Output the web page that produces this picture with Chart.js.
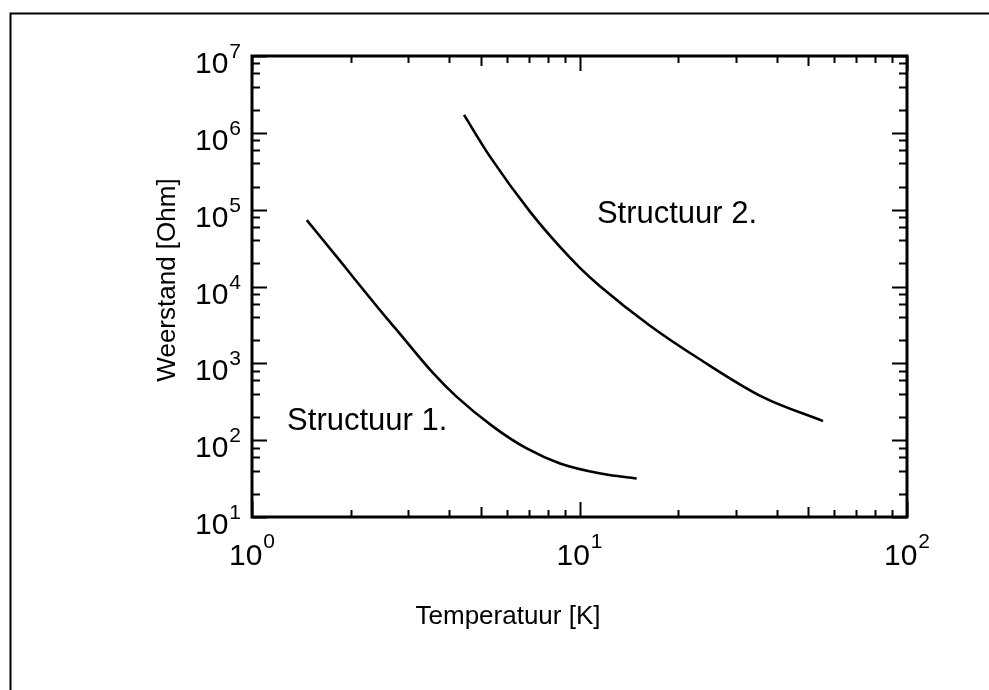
<!DOCTYPE html>
<html><head><meta charset="utf-8">
<script src="https://cdn.jsdelivr.net/npm/chart.js@4.4.1/dist/chart.umd.min.js"></script>
<style>html,body{margin:0;padding:0;background:#fff;}#wrap{width:989px;height:690px;position:relative;}</style>
</head><body><div id="wrap"><canvas id="c" width="989" height="690"></canvas></div>
<script>
// ---- data ----
const s1Temp = [1.47, 1.86, 2.04, 2.58, 2.83, 3.58, 4.22, 5.46, 6.9, 8.72, 11.6, 14.95];
const s1Res  = [73000, 21400, 13100, 3850, 2420, 740, 366, 149, 78, 49.8, 36.8, 31.7];
const s2Temp = [4.44, 5.33, 7.06, 8.72, 10.03, 11.55, 16.42, 23.3, 36.3, 55.4];
const s2Res  = [1.71e6, 4.9e5, 9.42e4, 3.27e4, 1.75e4, 1.01e4, 3090, 1130, 363, 177];
const seriesNames = ['Structuur 1.', 'Structuur 2.'];
const xDecades = [1, 10, 100];
const yDecades = [10, 100, 1e3, 1e4, 1e5, 1e6, 1e7];
const xExponents = ['0', '1', '2'];
const yExponents = ['1', '2', '3', '4', '5', '6', '7'];
const xMinorMult = [2, 3, 4, 5, 6, 7, 8, 9];
const yMinorMult = [2, 4, 6, 8];
const xTitle = 'Temperatuur [K]';
const yTitle = 'Weerstand [Ohm]';

const FONT = '"Liberation Sans", Arial, Helvetica, sans-serif';
const toPts = (xs, ys) => xs.map((x, i) => ({x: x, y: ys[i]}));

const axesPlugin = {
  id: 'axesPlugin',
  afterDraw(chart) {
    const ctx = chart.ctx;
    const xs = chart.scales.x, ys = chart.scales.y;
    const a = chart.chartArea;
    ctx.save();
    ctx.strokeStyle = '#000';
    ctx.fillStyle = '#000';
    // outer frame (left and top edges)
    ctx.lineWidth = 2;
    ctx.beginPath();
    ctx.moveTo(10.5, 690); ctx.lineTo(10.5, 13.5); ctx.lineTo(989, 13.5);
    ctx.stroke();
    // plot box
    ctx.lineWidth = 3;
    ctx.strokeRect(a.left, a.top, a.right - a.left, a.bottom - a.top);
    // ticks
    ctx.lineWidth = 2;
    ctx.beginPath();
    xDecades.forEach(d => {
      [1].concat(xMinorMult).forEach(m => {
        const v = d * m;
        if (v < xs.min - 1e-9 || v > xs.max + 1e-9) return;
        const px = Math.round(xs.getPixelForValue(v)) + 0.5;
        const len = m === 1 ? 15 : (m === 5 ? 10 : 7);
        ctx.moveTo(px, a.bottom); ctx.lineTo(px, a.bottom - len);
        ctx.moveTo(px, a.top); ctx.lineTo(px, a.top + len);
      });
    });
    yDecades.forEach(d => {
      [1].concat(yMinorMult).forEach(m => {
        const v = d * m;
        if (v < ys.min - 1e-9 || v > ys.max + 1e-9) return;
        const py = Math.round(ys.getPixelForValue(v)) + 0.5;
        const len = m === 1 ? 15 : 8;
        ctx.moveTo(a.left, py); ctx.lineTo(a.left + len, py);
        ctx.moveTo(a.right, py); ctx.lineTo(a.right - len, py);
      });
    });
    ctx.stroke();
    // tick labels with superscripts
    const baseFont = '30px ' + FONT, supFont = '21px ' + FONT;
    ctx.textBaseline = 'alphabetic';
    ctx.textAlign = 'left';
    xDecades.forEach((d, i) => {
      const px = xs.getPixelForValue(d);
      ctx.font = baseFont; const w1 = ctx.measureText('10').width;
      ctx.font = supFont; const w2 = ctx.measureText(xExponents[i]).width;
      const x0 = px - (w1 + w2 + 1) / 2;
      ctx.font = baseFont;
      ctx.fillText('10', x0, a.bottom + 48);
      ctx.font = supFont;
      ctx.fillText(xExponents[i], x0 + w1 + 1, a.bottom + 31);
    });
    yDecades.forEach((d, i) => {
      const py = ys.getPixelForValue(d);
      ctx.font = supFont; const w2 = ctx.measureText(yExponents[i]).width;
      ctx.font = baseFont; const w1 = ctx.measureText('10').width;
      const xr = a.left - 11;
      ctx.font = baseFont;
      ctx.fillText('10', xr - w2 - 1 - w1, py + 17);
      ctx.font = supFont;
      ctx.fillText(yExponents[i], xr - w2, py + 2);
    });
    // axis titles
    ctx.font = '26px ' + FONT;
    ctx.textAlign = 'center';
    ctx.textBaseline = 'middle';
    ctx.fillText(xTitle, 508, 617);
    ctx.save();
    ctx.translate(168, 280);
    ctx.rotate(-Math.PI / 2);
    ctx.fillText(yTitle, 0, 0);
    ctx.restore();
    // curve labels
    ctx.font = '31px ' + FONT;
    ctx.textAlign = 'left';
    ctx.textBaseline = 'alphabetic';
    ctx.fillText(seriesNames[0], xs.getPixelForValue(1.28), ys.getPixelForValue(135));
    ctx.fillText(seriesNames[1], xs.getPixelForValue(11.3), ys.getPixelForValue(67000));
    ctx.restore();
  }
};

new Chart(document.getElementById('c'), {
  type: 'line',
  data: {
    datasets: [
      {label: seriesNames[0], data: toPts(s1Temp, s1Res), borderColor: '#000', borderWidth: 2.6,
       pointRadius: 0, fill: false, cubicInterpolationMode: 'monotone'},
      {label: seriesNames[1], data: toPts(s2Temp, s2Res), borderColor: '#000', borderWidth: 2.6,
       pointRadius: 0, fill: false, cubicInterpolationMode: 'monotone'}
    ]
  },
  options: {
    responsive: false,
    animation: false,
    devicePixelRatio: 1,
    layout: {padding: {left: 252, right: 82, top: 56, bottom: 173}},
    plugins: {legend: {display: false}, tooltip: {enabled: false}},
    scales: {
      x: {type: 'logarithmic', min: 1, max: 100, display: false},
      y: {type: 'logarithmic', min: 10, max: 1e7, display: false}
    }
  },
  plugins: [axesPlugin]
});
</script></body></html>
